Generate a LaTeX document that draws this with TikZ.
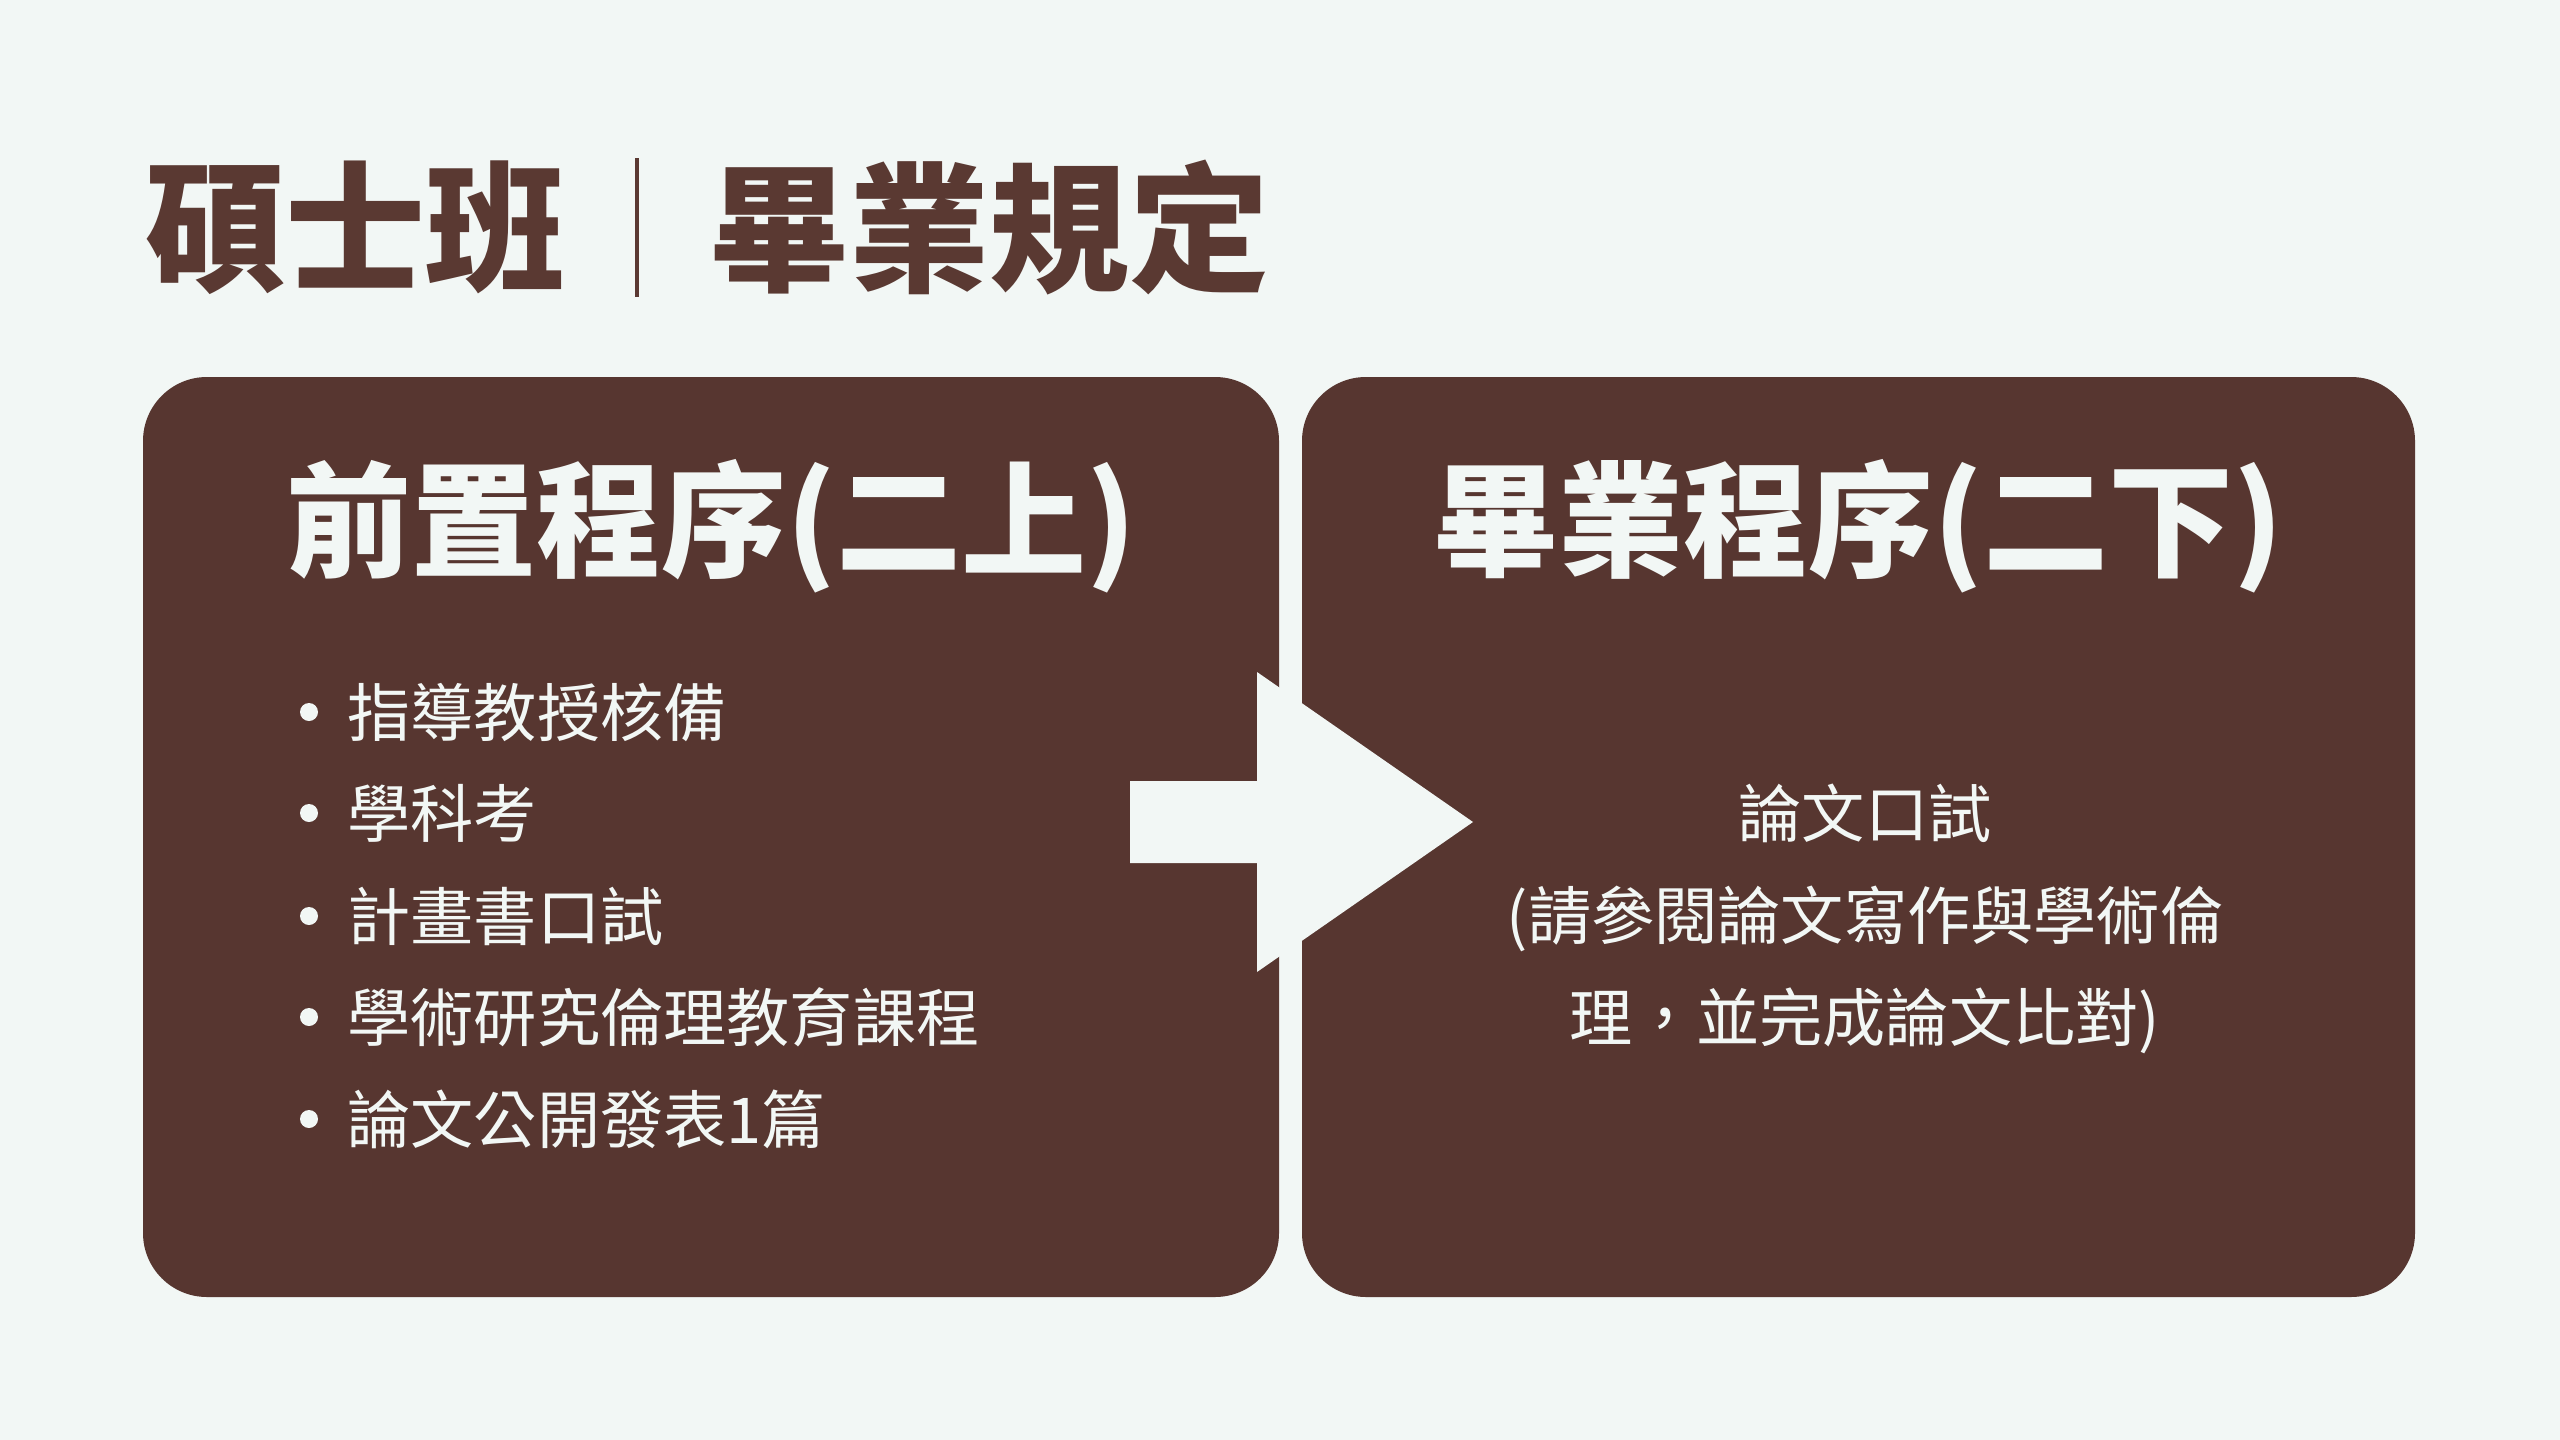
\documentclass[tikz,border=0pt]{standalone}
\usepackage{fontspec}
\newfontfamily\cjk{Noto Sans CJK TC}
\definecolor{bgc}{HTML}{F2F7F5}
\definecolor{boxc}{HTML}{573630}
\definecolor{titlec}{HTML}{5A3932}
\tikzset{
  panel/.style={fill=boxc, rounded corners=32pt, inner sep=0pt},
  titletext/.style={text=titlec, font=\cjk\bfseries\fontsize{70}{80}\selectfont, inner sep=0pt, anchor=west},
  headtext/.style={text=bgc, font=\cjk\bfseries\fontsize{62.5}{72}\selectfont, inner sep=0pt},
  bodytext/.style={text=bgc, font=\cjk\fontsize{31.6}{51}\selectfont, inner sep=0pt},
  dot/.style={circle, fill=bgc, inner sep=0pt, minimum size=9pt},
}
\begin{document}
\begin{tikzpicture}[x=0.5pt,y=-0.5pt]
\fill[bgc] (0,0) rectangle (2560,1440);
\useasboundingbox (0,0) rectangle (2560,1440);
% title
\node[titletext] (t1) at (145,228) {碩士班};
\coordinate (bartop) at (637,158);
\coordinate (barbot) at (637,297);
\draw[titlec, line width=1.8pt] (bartop) -- (barbot);
\node[titletext] (t2) at (709,228) {畢業規定};
% panels
\node[panel, minimum width=568pt, minimum height=460pt] (left) at (711,837) {};
\node[panel, minimum width=556.5pt, minimum height=460pt] (right) at (1858.5,837) {};
% arrow
\fill[bgc] (1130,781) -- (1257,781) -- (1257,672) -- (1473,822) -- (1257,972) -- (1257,863) -- (1130,863) -- cycle;
% headers
\node[headtext] (h1) at (711,526) {前置程序(二上)};
\node[headtext] (h2) at (1858,526) {畢業程序(二下)};
% bullets
\foreach \i/\y/\t in {1/712/指導教授核備, 2/813/學科考, 3/916/計畫書口試, 4/1017/學術研究倫理教育課程, 5/1119/論文公開發表1篇}{
  \node[dot] (d\i) at (309,\y) {};
  \node[bodytext, anchor=west] (b\i) at (347,\y) {\t};
}
% right text
\node[bodytext, align=center] (rt) at (1865,919) {論文口試\\(請參閱論文寫作與學術倫\\理，並完成論文比對)};
\end{tikzpicture}
\end{document}
